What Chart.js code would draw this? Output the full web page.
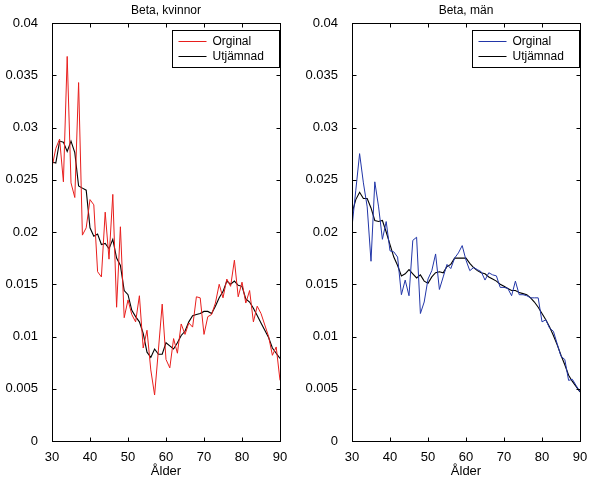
<!DOCTYPE html>
<html>
<head>
<meta charset="utf-8">
<script src="https://cdn.jsdelivr.net/npm/chart.js@4.4.1/dist/chart.umd.min.js"></script>
<style>
    html, body { margin: 0; padding: 0; background: #fff; }
    #wrap { position: relative; width: 593px; height: 484px; }
    .box { position: absolute; top: 0; height: 484px; }
    #boxLeft { left: 0; width: 300px; }
    #boxRight { left: 300px; width: 293px; }
</style>
</head>
<body>
<div id="wrap">
    <div class="box" id="boxLeft"><canvas id="womenChart"></canvas></div>
    <div class="box" id="boxRight"><canvas id="menChart"></canvas></div>
</div>
<script>
// Ages on the x axis
const ages = [30, 31, 32, 33, 34, 35, 36, 37, 38, 39, 40, 41, 42, 43, 44, 45, 46, 47, 48, 49,
    50, 51, 52, 53, 54, 55, 56, 57, 58, 59, 60, 61, 62, 63, 64, 65, 66, 67, 68, 69,
    70, 71, 72, 73, 74, 75, 76, 77, 78, 79, 80, 81, 82, 83, 84, 85, 86, 87, 88, 89, 90];

const xTicks = [30, 40, 50, 60, 70, 80, 90];
const yTicks = [0, 0.005, 0.01, 0.015, 0.02, 0.025, 0.03, 0.035, 0.04];

// Beta, kvinnor
const womenOriginal = [0.0262, 0.0280, 0.0289, 0.0248, 0.0368, 0.0247, 0.0233, 0.0343, 0.0197, 0.0204,
    0.0231, 0.0226, 0.0162, 0.0157, 0.0219, 0.0174, 0.0236, 0.0128, 0.0205, 0.0118,
    0.0135, 0.0121, 0.0114, 0.0139, 0.0089, 0.0106, 0.0068, 0.0044, 0.0087, 0.0131,
    0.0078, 0.0070, 0.0098, 0.0084, 0.0112, 0.0102, 0.0113, 0.0109, 0.0138, 0.0137,
    0.0102, 0.0119, 0.0121, 0.0132, 0.0150, 0.0137, 0.0155, 0.0148, 0.0173, 0.0138,
    0.0152, 0.0132, 0.0144, 0.0114, 0.0129, 0.0122, 0.0111, 0.0100, 0.0082, 0.0090, 0.0058];

const womenSmoothed = [0.0267, 0.0266, 0.0287, 0.0286, 0.0277, 0.0287, 0.0276, 0.0244, 0.0242, 0.0240,
    0.0204, 0.0196, 0.0198, 0.0188, 0.0189, 0.0184, 0.0193, 0.0175, 0.0168, 0.0144,
    0.0140, 0.0125, 0.0119, 0.0114, 0.0103, 0.0085, 0.0080, 0.0088, 0.0083, 0.0083,
    0.0094, 0.0091, 0.0088, 0.0094, 0.0101, 0.0105, 0.0114, 0.0120, 0.0121, 0.0122,
    0.0124, 0.0124, 0.0122, 0.0129, 0.0137, 0.0143, 0.0153, 0.0150, 0.0153, 0.0149,
    0.0148, 0.0136, 0.0133, 0.0127, 0.0120, 0.0113, 0.0106, 0.0099, 0.0089, 0.0084, 0.0079];

// Beta, män
const menOriginal = [0.0205, 0.0240, 0.0275, 0.0247, 0.0224, 0.0172, 0.0248, 0.0224, 0.0193, 0.0210,
    0.0182, 0.0181, 0.0176, 0.0140, 0.0154, 0.0139, 0.0192, 0.0195, 0.0122, 0.0133,
    0.0155, 0.0163, 0.0179, 0.0145, 0.0157, 0.0169, 0.0165, 0.0175, 0.0180, 0.0187,
    0.0173, 0.0163, 0.0166, 0.0164, 0.0162, 0.0154, 0.0161, 0.0159, 0.0158, 0.0147,
    0.0147, 0.0146, 0.0139, 0.0153, 0.0140, 0.0140, 0.0139, 0.0137, 0.0137, 0.0137,
    0.0114, 0.0116, 0.0108, 0.0105, 0.0093, 0.0081, 0.0078, 0.0058, 0.0059, 0.0053, 0.0047];

const menSmoothed = [0.0218, 0.0231, 0.0238, 0.0232, 0.0232, 0.0223, 0.0211, 0.0210, 0.0211, 0.0200,
    0.0188, 0.0176, 0.0168, 0.0158, 0.0160, 0.0164, 0.0160, 0.0156, 0.0159, 0.0153,
    0.0151, 0.0157, 0.0161, 0.0162, 0.0161, 0.0167, 0.0169, 0.0175, 0.0175, 0.0175,
    0.0175, 0.0170, 0.0166, 0.0163, 0.0161, 0.0160, 0.0157, 0.0155, 0.0153, 0.0150,
    0.0148, 0.0146, 0.0144, 0.0144, 0.0142, 0.0141, 0.0140, 0.0137, 0.0133, 0.0128,
    0.0122, 0.0116, 0.0109, 0.0101, 0.0092, 0.0082, 0.0073, 0.0063, 0.0057, 0.0052, 0.0047];

const FONT = 'Liberation Sans, Arial, Helvetica, sans-serif';

// Draw the title, the box round the plot, inward tick marks and the legend (MATLAB look)
const matlabFrame = {
    id: 'matlabFrame',
    afterDraw(chart, args, opts) {
        const ctx = chart.ctx;
        const a = chart.chartArea;
        const L = Math.round(a.left) + 0.5, R = Math.round(a.right) + 0.5;
        const T = Math.round(a.top) + 0.5, B = Math.round(a.bottom) + 0.5;
        ctx.save();

        // title centred over the plot area
        ctx.fillStyle = '#000';
        ctx.font = '12px ' + FONT;
        ctx.textAlign = 'center';
        ctx.textBaseline = 'middle';
        ctx.fillText(opts.title, (a.left + a.right) / 2, 11);
        ctx.textAlign = 'left';

        ctx.strokeStyle = '#000';
        ctx.lineWidth = 1;
        ctx.strokeRect(L, T, R - L, B - T);

        const tl = 4;
        ctx.beginPath();
        chart.scales.x.ticks.forEach(t => {
            const px = Math.round(chart.scales.x.getPixelForValue(t.value)) + 0.5;
            ctx.moveTo(px, B); ctx.lineTo(px, B - tl);
            ctx.moveTo(px, T); ctx.lineTo(px, T + tl);
        });
        chart.scales.y.ticks.forEach(t => {
            const py = Math.round(chart.scales.y.getPixelForValue(t.value)) + 0.5;
            ctx.moveTo(L, py); ctx.lineTo(L + tl, py);
            ctx.moveTo(R, py); ctx.lineTo(R - tl, py);
        });
        ctx.stroke();

        // legend in the top right corner
        const lw = 107, lh = 37;
        const lx = Math.round(a.right) - lw - 0.5, ly = T + 7;
        ctx.fillStyle = '#fff';
        ctx.fillRect(lx, ly, lw, lh);
        ctx.strokeRect(lx, ly, lw, lh);
        ctx.font = '12px ' + FONT;
        chart.data.datasets.forEach((ds, i) => {
            const yy = ly + 11 + i * 15;
            ctx.strokeStyle = ds.borderColor;
            ctx.beginPath();
            ctx.moveTo(lx + 6, yy); ctx.lineTo(lx + 34, yy);
            ctx.stroke();
            ctx.fillStyle = '#000';
            ctx.fillText(ds.label, lx + 40, yy);
        });
        ctx.restore();
    }
};

function makePoints(values) {
    return values.map((v, i) => ({ x: ages[i], y: v }));
}

function initBetaChart(canvasId, title, original, smoothed, color, padRight) {
    const ctx = document.getElementById(canvasId);
    return new Chart(ctx, {
        type: 'line',
        data: {
            datasets: [{
                label: 'Orginal',
                data: makePoints(original),
                borderColor: color,
                borderWidth: 1,
                pointRadius: 0,
                tension: 0
            }, {
                label: 'Utjämnad',
                data: makePoints(smoothed),
                borderColor: '#000',
                borderWidth: 1.1,
                pointRadius: 0,
                tension: 0
            }]
        },
        options: {
            responsive: true,
            maintainAspectRatio: false,
            animation: false,
            layout: { padding: { left: 0, right: padRight, top: 23, bottom: 0 } },
            plugins: {
                legend: { display: false },
                tooltip: { enabled: false },
                title: { display: false },
                matlabFrame: { title: title }
            },
            scales: {
                x: {
                    type: 'linear',
                    min: 30,
                    max: 90,
                    afterBuildTicks: scale => { scale.ticks = xTicks.map(v => ({ value: v })); },
                    afterFit: scale => { scale.height = 43; },
                    grid: { display: false },
                    border: { display: false },
                    ticks: {
                        color: '#000',
                        padding: 1,
                        maxRotation: 0,
                        font: { family: FONT, size: 13 }
                    },
                    title: {
                        display: true,
                        text: 'Ålder',
                        color: '#000',
                        padding: { top: 2, bottom: 5 },
                        font: { family: FONT, size: 13 }
                    }
                },
                y: {
                    min: 0,
                    max: 0.04,
                    afterBuildTicks: scale => { scale.ticks = yTicks.map(v => ({ value: v })); },
                    afterFit: scale => { scale.width = 52; },
                    grid: { display: false },
                    border: { display: false },
                    ticks: {
                        color: '#000',
                        padding: 6,
                        font: { family: FONT, size: 13 },
                        callback: v => String(+v.toFixed(3))
                    }
                }
            }
        },
        plugins: [matlabFrame]
    });
}

initBetaChart('womenChart', 'Beta, kvinnor', womenOriginal, womenSmoothed, 'rgb(232, 30, 28)', 20);
initBetaChart('menChart', 'Beta, män', menOriginal, menSmoothed, 'rgb(34, 54, 168)', 13);
</script>
</body>
</html>
